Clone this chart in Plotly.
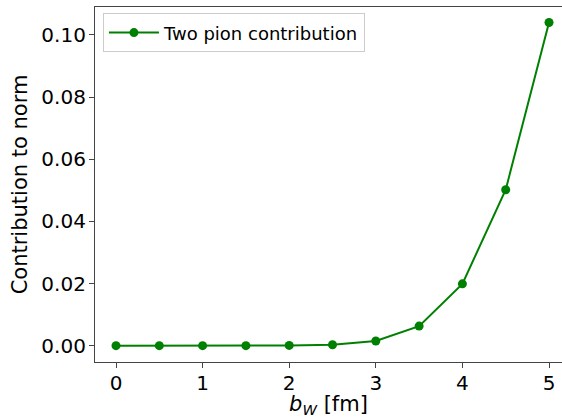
import plotly.graph_objects as go

# impact parameter b_W in fm and the two-pion contribution to the norm
b_w = [0.0, 0.5, 1.0, 1.5, 2.0, 2.5, 3.0, 3.5, 4.0, 4.5, 5.0]
two_pion = [0.0, 0.0, 0.0, 0.0, 0.0001, 0.0003, 0.0015, 0.0063, 0.0199, 0.0502, 0.1040]

x_ticks = [0, 1, 2, 3, 4, 5]
y_ticks = [0.00, 0.02, 0.04, 0.06, 0.08, 0.10]

GREEN = "#008000"
AXIS = "#444444"
FONT = "DejaVu Sans"

fig = go.Figure()
fig.add_trace(go.Scatter(
    x=b_w, y=two_pion,
    mode="lines+markers",
    name="Two pion contribution",
    line=dict(color=GREEN, width=2),
    marker=dict(color=GREEN, size=9),
))

fig.update_layout(
    width=562, height=418,
    margin=dict(l=95, r=0, t=7, b=56),
    paper_bgcolor="white", plot_bgcolor="white",
    font=dict(family=FONT, color="black", size=20),
    showlegend=True,
    legend=dict(
        x=0.017, y=0.982, xanchor="left", yanchor="top",
        itemwidth=50,
        bgcolor="rgba(255,255,255,0.8)", bordercolor="#cccccc", borderwidth=1,
        font=dict(family=FONT, size=18, color="black"),
    ),
    xaxis=dict(
        range=[-0.2425, 5.15],
        tickvals=x_ticks, ticktext=[str(v) for v in x_ticks],
        showgrid=False, zeroline=False,
        showline=True, linecolor=AXIS, linewidth=1.2, mirror=True,
        ticks="outside", ticklen=5, tickcolor=AXIS, tickwidth=1,
        ticklabelstandoff=-2,
        tickfont=dict(size=20),
        title=dict(text="<i>b</i><sub><i>W</i></sub> [fm]", font=dict(size=21), standoff=6),
    ),
    yaxis=dict(
        range=[-0.00525, 0.1090],
        tickvals=y_ticks, tickformat=".2f",
        showgrid=False, zeroline=False,
        showline=True, linecolor=AXIS, linewidth=1.2, mirror=False,
        ticks="outside", ticklen=5, tickcolor=AXIS, tickwidth=1,
        ticklabelstandoff=-1,
        tickfont=dict(size=20),
        title=dict(text="Contribution to norm", font=dict(size=21), standoff=8),
    ),
)

fig.write_html("out.html")
